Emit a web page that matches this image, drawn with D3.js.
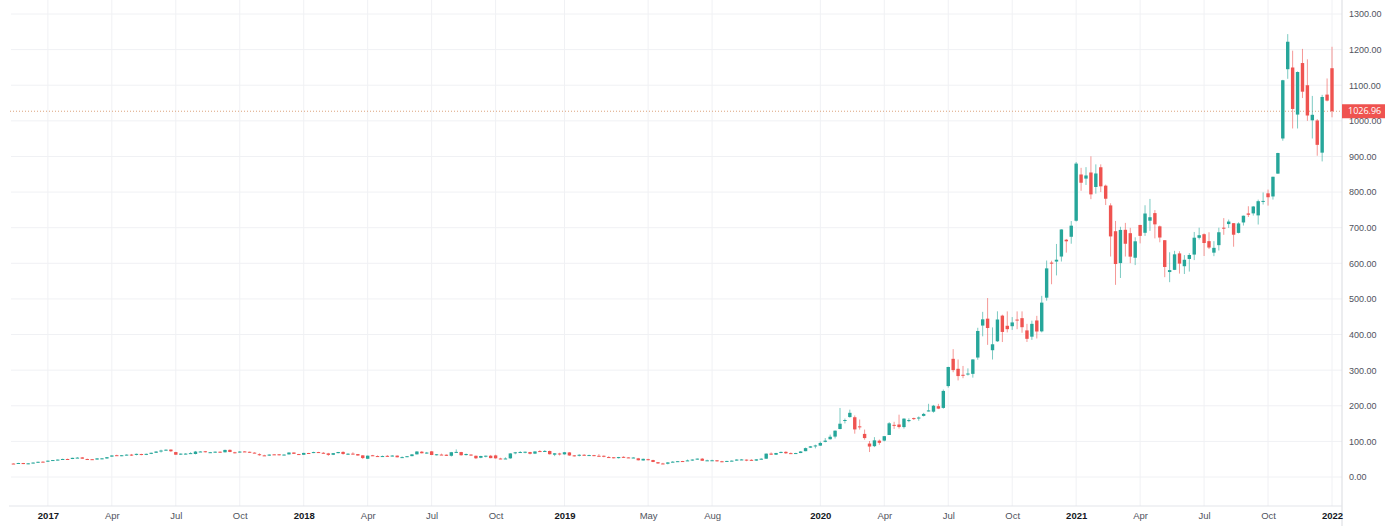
<!DOCTYPE html>
<html>
<head>
<meta charset="utf-8">
<script src="https://cdn.jsdelivr.net/npm/d3@7"></script>
<style>
  body { margin: 0; background: #fff; }
  svg { display: block; font-family: "Open Sans", "DejaVu Sans", sans-serif; }
</style>
</head>
<body>
<div id="container"></div>
<script>
/**
 * DATA - weekly candles, one bar per Monday
 * */
const firstWeek = new Date(2016, 10, 14),
  afterLastWeek = new Date(2022, 0, 4);

const opens = [
  37.8, 37.3, 39.3, 36.5, 38.6, 40.5, 43.0,
  // 2017
  43.0, 45.9, 47.2, 49.0, 50.6, 50.5, 54.0, 55.0, 50.5, 50.0, 49.0, 51.8, 52.0, 57.2, 61.2, 60.4, 61.2, 62.9, 62.0, 64.5, 62.4, 65.0, 68.0, 71.5, 75.0, 77.0,
  70.0, 62.8, 65.4, 66.0, 64.6, 71.0, 72.3, 68.6, 69.6, 71.0, 69.4, 76.2, 69.4, 68.8, 71.8, 70.8, 68.4, 64.0, 60.8, 60.0, 63.6, 63.8, 61.2, 63.4, 68.8, 64.4,
  // 2018
  62.4, 67.4, 67.6, 70.0, 68.0, 66.2, 62.4, 67.0, 70.4, 64.2, 65.7, 64.4, 60.8, 51.2, 61.0, 58.8, 58.6, 59.4, 58.0, 60.0, 55.2, 56.0, 58.6, 63.6, 71.0, 66.0,
  72.0, 62.6, 63.0, 62.6, 59.6, 70.2, 70.0, 61.6, 63.0, 59.6, 54.0, 59.0, 59.7, 60.6, 52.0, 51.6, 52.4, 66.8, 69.4, 70.0, 70.0, 65.6, 72.8, 72.0, 73.0, 62.6, 66.0,
  // 2019
  63.6, 69.0, 60.8, 59.6, 62.4, 61.2, 61.4, 59.6, 59.6, 56.0, 55.4, 53.0, 56.6, 55.0, 53.6, 52.4, 46.4, 50.0, 47.6, 41.6, 38.0, 37.2, 42.0, 43.0, 44.8, 45.2,
  46.2, 49.0, 51.4, 45.8, 46.0, 47.0, 44.2, 43.0, 45.0, 46.0, 49.0, 48.8, 48.2, 46.0, 49.6, 51.4, 65.8, 62.6, 67.6, 70.6, 67.0, 65.9, 67.3, 72.5, 82.4, 85.8,
  // 2020
  88.1, 98.7, 106.0, 113.4, 134.7, 159.8, 168.3, 167.8, 142.2, 121.0, 93.9, 86.6, 102.0, 102.2, 118.0, 146.4, 147.4, 140.2, 158.0, 165.4, 165.6, 171.6, 184.0, 183.4, 198.8, 194.0,
  255.3, 331.8, 303.8, 287.0, 289.8, 289.6, 335.4, 425.2, 444.6, 356.0, 381.0, 453.1, 424.6, 423.4, 442.0, 446.0, 411.6, 394.0, 439.5, 408.9, 503.5, 602.0, 604.9, 619.0, 666.2, 674.5,
  // 2021
  719.5, 849.4, 837.8, 855.0, 814.3, 869.7, 818.0, 762.6, 690.1, 600.6, 694.1, 684.6, 615.6, 707.7, 685.7, 719.6, 741.0, 703.8, 664.9, 575.5, 581.6, 627.8, 591.8, 612.2, 624.5, 671.6,
  681.7, 662.2, 629.9, 651.0, 700.0, 710.2, 712.7, 685.4, 714.7, 740.0, 740.2, 734.6, 773.1, 796.5, 787.7, 851.8, 950.5, 1145.0, 1149.8, 1017.6, 1162.3, 1100.0, 1001.5, 1001.1, 910.7, 1073.7,
  // 2022
  1147.8
];

const highs = [
  38.4, 39.8, 39.6, 38.8, 41.0, 43.0, 44.0,
  46.2, 47.8, 49.2, 51.4, 51.6, 54.0, 56.0, 56.0, 51.9, 50.6, 53.0, 53.2, 56.0, 60.8, 62.6, 61.8, 63.5, 64.7, 65.6, 65.2, 65.6, 68.4, 72.4, 76.6, 77.4, 77.5,
  70.6, 66.2, 66.9, 69.4, 73.1, 73.0, 73.1, 70.4, 71.7, 71.8, 76.8, 77.4, 70.8, 72.8, 72.8, 71.2, 69.4, 66.4, 62.4, 63.6, 64.0, 64.2, 63.4, 69.2, 68.9, 65.0,
  68.0, 67.8, 71.0, 70.6, 70.0, 67.8, 67.2, 70.4, 72.2, 67.0, 69.4, 64.6, 61.4, 60.2, 62.0, 60.6, 60.2, 61.6, 61.4, 60.6, 57.8, 58.8, 64.4, 72.5, 73.0, 70.4,
  72.8, 64.4, 65.6, 63.2, 70.4, 77.5, 70.6, 65.8, 64.0, 60.2, 59.6, 60.0, 62.0, 62.6, 54.0, 55.2, 66.8, 70.4, 72.8, 71.4, 70.6, 72.4, 75.4, 75.6, 74.2, 67.0, 68.0,
  70.2, 70.0, 61.8, 64.0, 64.2, 62.6, 62.0, 64.4, 60.4, 58.4, 55.8, 56.4, 58.0, 55.4, 55.6, 53.6, 51.6, 51.2, 48.4, 41.8, 39.8, 42.0, 44.6, 45.0, 45.2, 49.0,
  49.4, 51.8, 53.4, 48.6, 48.6, 47.4, 45.4, 45.4, 46.6, 49.8, 50.6, 49.2, 49.8, 50.2, 52.6, 66.0, 69.0, 67.8, 71.4, 72.2, 68.9, 68.0, 72.6, 82.6, 87.1, 90.8,
  99.7, 109.4, 118.9, 130.6, 193.8, 164.0, 189.0, 172.8, 161.4, 133.2, 101.0, 112.0, 105.2, 115.0, 154.0, 155.0, 175.0, 164.8, 164.8, 166.8, 170.0, 180.0, 205.5, 202.4, 205.4, 245.6,
  309.6, 359.0, 330.0, 311.8, 305.0, 330.4, 419.0, 463.7, 502.5, 420.0, 465.2, 455.7, 465.0, 449.0, 465.0, 465.0, 430.0, 439.0, 452.5, 508.6, 607.8, 607.3, 654.3, 695.6, 668.5, 718.7,
  884.5, 868.0, 870.0, 900.4, 877.8, 877.8, 821.0, 768.5, 719.0, 702.5, 713.5, 699.6, 673.0, 707.9, 763.0, 780.8, 749.4, 706.0, 665.0, 631.0, 635.0, 633.8, 623.0, 628.4, 688.0, 700.0,
  684.0, 687.2, 662.2, 700.0, 726.9, 722.8, 712.7, 715.0, 734.0, 760.2, 761.0, 778.8, 799.0, 807.0, 843.2, 910.4, 1115.2, 1243.5, 1197.0, 1138.7, 1202.0, 1172.8, 1070.0, 1005.0, 1073.0, 1119.0,
  1208.0
];

const lows = [
  36.6, 37.1, 36.2, 36.0, 38.2, 40.1, 42.0,
  42.4, 45.6, 46.4, 48.8, 49.0, 50.3, 53.4, 51.0, 49.4, 48.2, 48.6, 49.8, 51.2, 56.6, 59.4, 58.4, 60.6, 59.0, 60.8, 61.0, 61.5, 64.4, 67.4, 68.7, 74.0, 70.4,
  62.2, 62.0, 63.4, 65.8, 63.5, 70.6, 69.1, 67.7, 68.0, 68.2, 68.9, 69.6, 66.4, 68.1, 70.2, 68.2, 66.8, 59.7, 59.6, 59.4, 62.0, 60.4, 60.8, 63.2, 64.6, 61.8,
  62.0, 66.0, 67.0, 68.0, 66.0, 59.4, 61.6, 66.4, 62.6, 62.4, 63.4, 60.0, 50.4, 50.4, 58.8, 57.4, 56.4, 56.4, 57.6, 55.0, 54.6, 55.6, 58.2, 63.4, 66.2, 65.4,
  61.4, 60.6, 62.0, 59.0, 57.4, 68.2, 60.0, 60.2, 59.4, 50.4, 52.8, 55.2, 52.6, 51.6, 50.0, 50.6, 51.2, 63.8, 68.4, 66.6, 63.4, 64.4, 70.4, 70.2, 63.0, 58.6, 60.4,
  62.8, 59.2, 57.6, 57.8, 60.4, 60.2, 58.4, 57.8, 55.4, 54.2, 52.2, 52.0, 53.4, 53.2, 53.0, 46.4, 46.2, 46.8, 41.6, 36.8, 36.6, 35.4, 41.4, 42.6, 42.6, 45.0,
  45.4, 48.6, 45.0, 45.4, 45.2, 43.2, 41.6, 42.4, 44.0, 45.8, 47.4, 44.4, 45.4, 45.2, 49.0, 50.6, 62.0, 62.0, 66.8, 64.8, 65.4, 65.4, 67.0, 72.4, 82.0, 80.4,
  87.2, 97.4, 105.2, 108.2, 134.0, 150.5, 166.6, 121.6, 133.0, 104.6, 70.1, 84.0, 90.4, 100.0, 118.0, 135.0, 136.0, 136.0, 153.8, 160.0, 158.0, 170.0, 184.0, 180.6, 190.6, 191.6,
  250.9, 294.2, 271.2, 277.4, 284.8, 279.0, 329.2, 395.0, 371.0, 329.9, 379.4, 379.0, 406.0, 413.0, 415.0, 405.0, 379.1, 385.0, 389.0, 406.0, 495.0, 541.2, 566.0, 605.0, 630.0, 655.0,
  717.2, 803.6, 820.0, 780.1, 795.6, 800.0, 763.6, 619.0, 539.5, 558.8, 619.0, 600.4, 595.0, 656.0, 677.0, 691.0, 670.0, 659.0, 561.0, 547.0, 581.0, 571.2, 570.0, 576.8, 609.0, 667.0,
  620.5, 640.0, 620.0, 636.0, 680.0, 699.4, 646.6, 684.0, 706.0, 730.0, 734.0, 708.9, 765.0, 762.0, 779.0, 851.0, 944.2, 1118.0, 978.6, 978.6, 1064.0, 1000.0, 950.5, 902.0, 886.1, 1054.6,
  1010.0
];

const closes = [
  37.0, 39.3, 36.3, 38.4, 40.5, 42.7, 42.7,
  45.8, 47.6, 48.9, 50.6, 50.3, 53.8, 54.4, 51.4, 50.3, 48.7, 52.3, 52.4, 55.7, 60.5, 60.8, 61.1, 62.8, 61.7, 65.0, 62.0, 65.0, 68.0, 71.5, 74.3, 76.7, 72.3,
  62.6, 65.6, 65.7, 67.0, 71.4, 71.6, 69.5, 69.6, 71.1, 68.7, 76.0, 70.2, 68.2, 71.4, 71.1, 69.0, 67.4, 61.2, 60.6, 63.0, 63.4, 61.4, 63.0, 68.7, 65.0, 62.3,
  67.6, 67.2, 70.0, 68.6, 66.6, 62.1, 67.0, 70.2, 64.6, 65.4, 64.3, 60.3, 53.2, 59.9, 60.1, 58.0, 58.8, 58.8, 60.2, 55.4, 55.8, 58.4, 63.5, 71.6, 66.7, 68.6,
  61.8, 63.8, 62.7, 59.4, 69.6, 70.5, 61.1, 64.6, 60.3, 52.6, 59.0, 59.8, 53.0, 52.4, 51.8, 52.0, 66.2, 69.3, 70.1, 70.9, 65.2, 71.7, 71.6, 73.1, 64.0, 66.6, 63.5,
  69.5, 60.5, 59.4, 62.4, 61.2, 61.6, 58.9, 59.0, 56.8, 55.1, 52.9, 56.0, 55.0, 53.6, 54.7, 47.0, 51.0, 47.9, 42.2, 38.1, 37.0, 40.9, 43.0, 44.4, 44.7, 46.6,
  49.0, 51.6, 45.6, 46.8, 47.0, 44.0, 42.3, 45.1, 45.9, 49.0, 49.3, 48.4, 46.3, 49.6, 51.4, 65.6, 62.7, 67.4, 70.4, 66.6, 66.0, 67.2, 71.7, 81.1, 86.1, 88.6,
  95.6, 102.1, 113.0, 130.1, 149.6, 160.0, 180.2, 133.6, 140.7, 109.3, 85.5, 102.9, 96.0, 114.6, 150.8, 145.0, 140.3, 163.9, 159.8, 163.4, 167.0, 177.1, 187.0, 200.2, 192.0, 241.7,
  308.9, 300.2, 283.4, 286.2, 290.5, 330.1, 410.0, 442.7, 418.3, 372.7, 442.2, 407.3, 415.1, 434.0, 439.7, 420.6, 388.0, 430.0, 408.5, 489.6, 585.8, 599.0, 610.0, 695.0, 661.8, 705.7,
  880.0, 826.2, 846.6, 793.5, 852.2, 816.1, 781.3, 675.5, 598.0, 693.7, 654.9, 618.7, 661.8, 677.0, 739.8, 729.4, 709.4, 672.4, 589.7, 580.9, 625.2, 599.1, 609.9, 623.3, 671.9, 678.9,
  657.0, 644.2, 643.4, 687.2, 699.1, 717.2, 680.3, 711.9, 733.6, 736.3, 759.5, 774.4, 775.2, 785.5, 843.0, 909.7, 1114.0, 1222.1, 1033.4, 1137.1, 1081.9, 1015.0, 1017.0, 932.6, 1067.0, 1056.8,
  1026.96
];

const tickMonths = ["2017-01", "2017-04", "2017-07", "2017-10", "2018-01", "2018-04", "2018-07", "2018-10",
  "2019-01", "2019-05", "2019-08", "2020-01", "2020-04", "2020-07", "2020-10",
  "2021-01", "2021-04", "2021-07", "2021-10", "2022-01"];
const tickLabels = ["2017", "Apr", "Jul", "Oct", "2018", "Apr", "Jul", "Oct",
  "2019", "May", "Aug", "2020", "Apr", "Jul", "Oct",
  "2021", "Apr", "Jul", "Oct", "2022"];
const priceTicks = [0, 100, 200, 300, 400, 500, 600, 700, 800, 900, 1000, 1100, 1200, 1300];
const lastPrice = 1026.96;

/**
 * CONSTANTS
 * */
const width = 1392,
  height = 526,
  margin = { top: 14, left: 11, right: 50, bottom: 20 };
const plotRight = width - margin.right,
  plotBottom = height - margin.bottom,
  barStep = 4.92,
  bodyW = 3.4;
const upColor = "#26a69a",
  downColor = "#ef5350";

const weeks = d3.timeMonday.range(firstWeek, afterLastWeek);
const monthKey = d3.timeFormat("%Y-%m");

const svg = d3.select("#container")
  .append("svg")
  .attr("width", width)
  .attr("height", height);

const x = d3.scalePoint()
  .domain(d3.range(weeks.length))
  .range([plotRight - 10 - barStep * (weeks.length - 1), plotRight - 10]);

const y = d3.scaleLinear()
  .domain([0, 1300])
  .range([plotBottom - 29, margin.top]);

const tickIndex = tickMonths.map(m => weeks.findIndex(w => monthKey(w) === m));

// grid
svg.append("g")
  .selectAll("line")
  .data(priceTicks)
  .join("line")
  .attr("x1", margin.left)
  .attr("x2", plotRight)
  .attr("y1", d => y(d))
  .attr("y2", d => y(d))
  .attr("stroke", "#f0f1f4");

svg.append("g")
  .selectAll("line")
  .data(tickIndex)
  .join("line")
  .attr("x1", d => x(d))
  .attr("x2", d => x(d))
  .attr("y1", 0)
  .attr("y2", plotBottom)
  .attr("stroke", "#f0f1f4");

// borders
svg.append("line")
  .attr("x1", plotRight).attr("x2", plotRight)
  .attr("y1", 0).attr("y2", height)
  .attr("stroke", "#d9dbe0");
svg.append("line")
  .attr("x1", margin.left - 2).attr("x2", plotRight)
  .attr("y1", plotBottom).attr("y2", plotBottom)
  .attr("stroke", "#e3e5ea");

// last price line
svg.append("line")
  .attr("x1", margin.left - 1)
  .attr("x2", plotRight)
  .attr("y1", y(lastPrice))
  .attr("y2", y(lastPrice))
  .attr("stroke", "#dca27c")
  .attr("stroke-dasharray", "1,2");

// candles
const candles = svg.append("g")
  .selectAll("g")
  .data(weeks.map((w, i) => i))
  .join("g");

const candleColor = i => closes[i] >= opens[i] ? upColor : downColor;

candles.append("line")
  .attr("x1", i => x(i))
  .attr("x2", i => x(i))
  .attr("y1", i => y(highs[i]))
  .attr("y2", i => y(lows[i]))
  .attr("stroke", candleColor)
  .attr("stroke-opacity", 0.6);

candles.append("rect")
  .attr("x", i => x(i) - bodyW / 2)
  .attr("width", bodyW)
  .attr("y", i => y(Math.max(opens[i], closes[i])))
  .attr("height", i => Math.max(1, y(Math.min(opens[i], closes[i])) - y(Math.max(opens[i], closes[i]))))
  .attr("fill", candleColor);

// right price axis
const yAxis = svg.append("g")
  .attr("transform", `translate(${plotRight},0)`)
  .call(d3.axisRight(y).tickValues(priceTicks).tickFormat(d3.format(".2f")).tickSize(0).tickPadding(7));
yAxis.select(".domain").remove();
yAxis.selectAll("text")
  .attr("fill", "#50535e")
  .style("font-size", "9px");

// time axis
const xAxis = svg.append("g")
  .attr("transform", `translate(0,${plotBottom})`)
  .call(d3.axisBottom(x).tickValues(tickIndex).tickFormat((d, i) => tickLabels[i]).tickSize(0).tickPadding(6));
xAxis.select(".domain").remove();
xAxis.selectAll("text")
  .style("font-size", "9.5px")
  .attr("fill", (d, i) => /^\d/.test(tickLabels[i]) ? "#131722" : "#50535e")
  .style("font-weight", (d, i) => /^\d/.test(tickLabels[i]) ? "bold" : "normal");

// last price label
const tag = svg.append("g")
  .attr("transform", `translate(${plotRight},${y(lastPrice)})`);
tag.append("rect")
  .attr("x", 0)
  .attr("y", -7)
  .attr("width", 43)
  .attr("height", 14)
  .attr("fill", downColor);
tag.append("text")
  .attr("x", 6)
  .attr("dy", "0.34em")
  .attr("fill", "#fff")
  .style("font-size", "9px")
  .text(d3.format(".2f")(lastPrice));
</script>
</body>
</html>
